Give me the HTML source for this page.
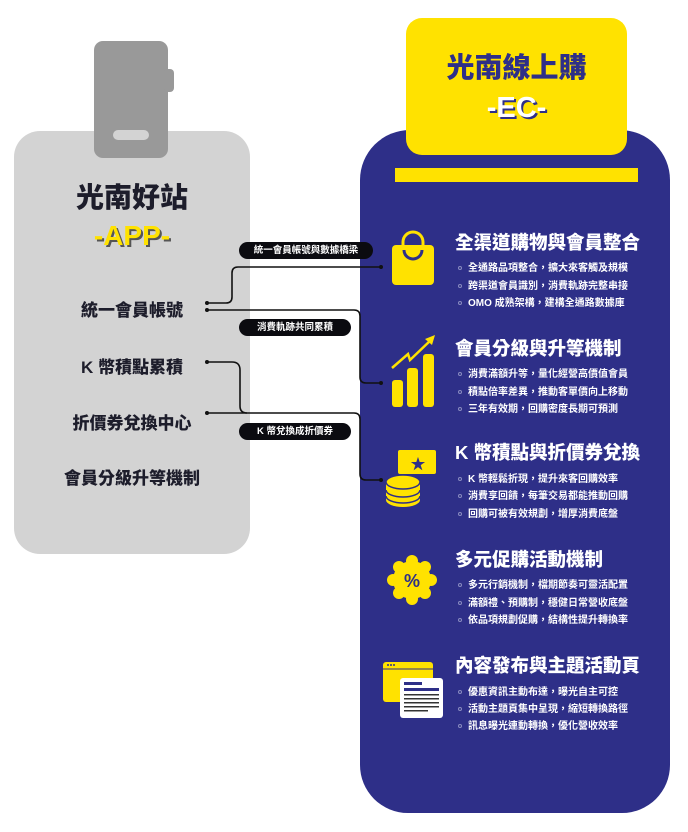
<!DOCTYPE html>
<html><head><meta charset="utf-8"><style>
*{margin:0;padding:0;box-sizing:border-box}
body{width:688px;height:832px;background:#fff;position:relative;overflow:hidden;font-family:"Liberation Sans","Noto Sans CJK TC",sans-serif;}
.a{position:absolute}
.gray{left:14px;top:131px;width:236px;height:423px;background:#d3d3d3;border-radius:26px}
.clip{left:94px;top:41px;width:74px;height:117px;background:#999;border-radius:9px}
.bump{left:164px;top:69px;width:10px;height:23px;background:#999;border-radius:4px}
.slot{left:113px;top:130px;width:36px;height:10px;background:#d3d3d3;border-radius:5px}
.ct{left:14px;width:236px;text-align:center;font-weight:900;color:#1d1d2b}
.item{font-size:17px}
.pill{height:17px;background:#0b0b10;color:#fff;border-radius:9px;font-size:9.5px;line-height:17px;text-align:center;font-weight:700}
.blue{left:360px;top:130px;width:310px;height:683px;background:#2e2f88;border-radius:50px 50px 48px 48px}
.ybox{left:406px;top:18px;width:221px;height:137px;background:#ffe200;border-radius:16px}
.bar{left:395px;top:168px;width:243px;height:14px;background:#ffe200}
.h{left:455px;font-size:18.5px;font-weight:900;color:#fff;white-space:nowrap}
.b{left:458px;font-size:10px;color:#fff;font-weight:700;white-space:nowrap}
.b span{display:inline-block;width:4px;height:4px;border:1px solid #8a8cc0;border-radius:50%;margin-right:6px;vertical-align:middle}
</style></head><body>
<div class="a gray"></div>
<div class="a clip"></div><div class="a bump"></div><div class="a slot"></div>
<div class="a ct" style="top:176px;font-size:28px">光南好站</div>
<div class="a ct" style="top:220px;font-size:28px;color:#ffe200;text-shadow:2px 2px 0 #555">-APP-</div>
<div class="a ct item" style="top:296px">統一會員帳號</div>
<div class="a ct item" style="top:353px">K 幣積點累積</div>
<div class="a ct item" style="top:409px">折價券兌換中心</div>
<div class="a ct item" style="top:464px">會員分級升等機制</div>

<div class="a blue"></div>
<div class="a ybox"></div>
<div class="a" style="left:406px;top:46px;width:221px;text-align:center;font-size:28px;font-weight:900;color:#2e2f88">光南線上購</div>
<div class="a" style="left:406px;top:92px;width:221px;text-align:center;font-size:29px;font-weight:900;color:#fff;text-shadow:2px 2px 0 #2e2f88">-EC-</div>
<div class="a bar"></div>

<svg class="a" style="left:0;top:0" width="688" height="832">
<g fill="none" stroke="#111" stroke-width="1.6">
<path d="M207 303 H226 Q232 303 232 297 V273 Q232 267 238 267 H381"/>
<path d="M207 310 H354 Q360 310 360 316 V377 Q360 383 366 383 H381"/>
<path d="M207 362 H232 Q240 362 240 370 V406 Q240 413 247 413 H354 Q360 413 360 419 V474 Q360 480 366 480 H381"/>
<path d="M207 413 H247"/>
</g>
<g fill="#111"><circle cx="207" cy="303" r="2"/><circle cx="207" cy="310" r="2"/><circle cx="207" cy="362" r="2"/><circle cx="207" cy="413" r="2"/><circle cx="381" cy="267" r="2"/><circle cx="381" cy="383" r="2"/><circle cx="381" cy="480" r="2"/></g>
<rect x="392" y="245" width="42" height="40" rx="4" fill="#ffe200"/>
<path d="M403 248 V242 a10 10 0 0 1 20 0 V248" fill="none" stroke="#ffe200" stroke-width="3"/>
<path d="M404 250 a9 9 0 0 0 18 0" fill="none" stroke="#2e2f88" stroke-width="3"/>
<rect x="392" y="380" width="11" height="27" rx="3" fill="#ffe200"/>
<rect x="407" y="368" width="11" height="39" rx="3" fill="#ffe200"/>
<rect x="423" y="354" width="11" height="53" rx="3" fill="#ffe200"/>
<path d="M392 368 L408 354 L410 360 L432 339" fill="none" stroke="#ffe200" stroke-width="2.5"/>
<path d="M425 339 L435 335 L432 345 Z" fill="#ffe200"/>
<rect x="398" y="450" width="38" height="24" rx="2" fill="#ffe200"/>
<text x="418" y="469" font-size="15" text-anchor="middle" fill="#2e2f88">★</text>
<ellipse cx="403" cy="500" rx="17" ry="7" fill="#ffe200"/>
<rect x="386" y="482" width="34" height="18" fill="#ffe200"/>
<ellipse cx="403" cy="482" rx="17" ry="7" fill="#ffe200" stroke="#2e2f88" stroke-width="1.5"/>
<path d="M386 490 a17 7 0 0 0 34 0 M386 496 a17 7 0 0 0 34 0" fill="none" stroke="#2e2f88" stroke-width="1.5"/>
<g transform="translate(412,580)" fill="#ffe200">
<circle r="19"/><circle cx="0" cy="-19" r="6"/><circle cx="0" cy="19" r="6"/><circle cx="-19" cy="0" r="6"/><circle cx="19" cy="0" r="6"/>
<circle cx="13" cy="13" r="6"/><circle cx="-13" cy="13" r="6"/><circle cx="13" cy="-13" r="6"/><circle cx="-13" cy="-13" r="6"/>
</g>
<text x="412" y="587" font-size="18" font-weight="900" text-anchor="middle" fill="#2e2f88" font-family="Liberation Sans">%</text>
<rect x="383" y="662" width="50" height="40" rx="3" fill="#ffe200"/>
<circle cx="388" cy="665" r="1" fill="#2e2f88"/><circle cx="391" cy="665" r="1" fill="#2e2f88"/><circle cx="394" cy="665" r="1" fill="#2e2f88"/>
<line x1="383" y1="669" x2="433" y2="669" stroke="#2e2f88" stroke-width="1"/>
<rect x="400" y="678" width="43" height="40" rx="3" fill="#fff"/>
<rect x="404" y="682" width="18" height="3" fill="#2e2f88"/><rect x="404" y="688" width="35" height="3" fill="#2e2f88"/>
<g fill="#333"><rect x="404" y="694" width="35" height="1.5"/><rect x="404" y="698" width="35" height="1.5"/><rect x="404" y="702" width="35" height="1.5"/><rect x="404" y="706" width="35" height="1.5"/><rect x="404" y="710" width="24" height="1.5"/></g>
</svg>
<div class="a pill" style="left:239px;top:242px;width:134px">統一會員帳號與數據橋梁</div>
<div class="a pill" style="left:239px;top:319px;width:112px">消費軌跡共同累積</div>
<div class="a pill" style="left:239px;top:423px;width:112px">K 幣兌換成折價券</div>

<div class="a h" style="top:229px">全渠道購物與會員整合</div>
<div class="a b" style="top:259px"><span></span>全通路品項整合，擴大來客觸及規模</div>
<div class="a b" style="top:277px"><span></span>跨渠道會員識別，消費軌跡完整串接</div>
<div class="a b" style="top:294px"><span></span>OMO 成熟架構，建構全通路數據庫</div>

<div class="a h" style="top:335px">會員分級與升等機制</div>
<div class="a b" style="top:365px"><span></span>消費滿額升等，量化經營高價值會員</div>
<div class="a b" style="top:383px"><span></span>積點倍率差異，推動客單價向上移動</div>
<div class="a b" style="top:400px"><span></span>三年有效期，回購密度長期可預測</div>

<div class="a h" style="top:439px">K 幣積點與折價券兌換</div>
<div class="a b" style="top:470px"><span></span>K 幣輕鬆折現，提升來客回購效率</div>
<div class="a b" style="top:487px"><span></span>消費享回饋，每筆交易都能推動回購</div>
<div class="a b" style="top:505px"><span></span>回購可被有效規劃，增厚消費底盤</div>

<div class="a h" style="top:546px">多元促購活動機制</div>
<div class="a b" style="top:576px"><span></span>多元行銷機制，檔期節奏可靈活配置</div>
<div class="a b" style="top:594px"><span></span>滿額禮、預購制，穩健日常營收底盤</div>
<div class="a b" style="top:611px"><span></span>依品項規劃促購，結構性提升轉換率</div>

<div class="a h" style="top:652px">內容發布與主題活動頁</div>
<div class="a b" style="top:683px"><span></span>優惠資訊主動布達，曝光自主可控</div>
<div class="a b" style="top:700px"><span></span>活動主題頁集中呈現，縮短轉換路徑</div>
<div class="a b" style="top:717px"><span></span>訊息曝光連動轉換，優化營收效率</div>
</body></html>
